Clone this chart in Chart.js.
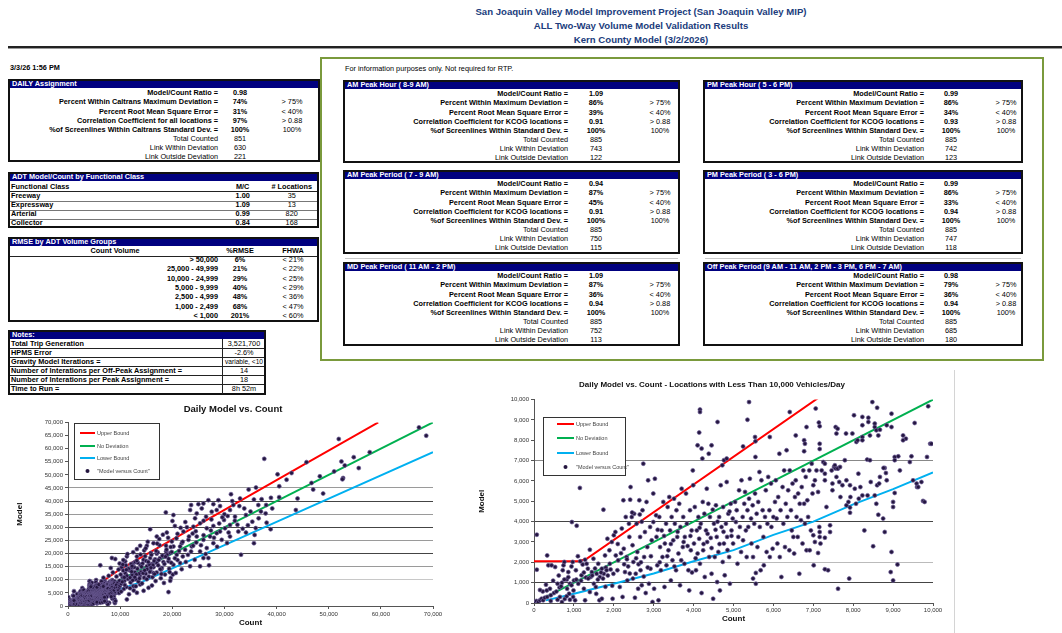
<!DOCTYPE html>
<html>
<head>
<meta charset="utf-8">
<script src="https://cdn.jsdelivr.net/npm/chart.js@4.4.1/dist/chart.umd.min.js"></script>
<style>
  html, body { margin: 0; padding: 0; background: #fff; }
  body { width: 1062px; height: 633px; position: relative; overflow: hidden;
         font-family: "Liberation Sans", Arial, sans-serif; }
  .t { position: absolute; white-space: nowrap; line-height: 10px; font-size: 7.3px; color: #000; }
  .b { font-weight: bold; }
  .r { position: absolute; box-sizing: border-box; }
  .title { position: absolute; left: 641px; transform: translateX(-50%); white-space: nowrap;
           font: bold 9.6px "Liberation Sans", Arial, sans-serif; color: #203c7c; }
  canvas { display: block; }
</style>
</head>
<body>
<div class="title" style="top:6px">San Joaquin Valley Model Improvement Project (San Joaquin Valley MIP)</div>
<div class="title" style="top:20px">ALL Two-Way Volume Model Validation Results</div>
<div class="title" style="top:34px">Kern County Model (3/2/2026)</div>
<div class="r" style="left:8px;top:46px;width:1054px;height:2px;background:#222"></div>
<div class="r" style="left:8px;top:48px;width:1054px;height:1px;background:#999"></div>

<div class="r" style="left:320px;top:57px;width:724px;height:304px;border:2px solid #7a9a3c"></div>

<div id="dailyWrap" style="position:absolute;left:0;top:398px;width:466px;height:235px">
  <canvas id="dailyChart" width="466" height="235"></canvas>
</div>
<div id="lowWrap" style="position:absolute;left:470px;top:370px;width:484px;height:263px;border-right:1px solid #d4d4d4;box-sizing:content-box">
  <canvas id="lowChart" width="484" height="263"></canvas>
</div>

<script>
// ---------- chart data ----------
// Locations counted under 10,000 vehicles/day: [count, model]
const underTenThousand = [
  [0,0],[60,100],[110,50],[150,130],[190,210],[230,130],[270,260],[330,300],[70,1640],[70,3360],
  [360,1850],[330,2340],[440,1850],[220,570],[320,620],[400,700],[500,490],[590,160],[650,300],[720,1610],
  [740,1850],[760,2020],[820,1150],[860,1520],[900,950],[940,870],[950,3980],[970,2020],[990,620],[1000,1110],
  [530,1770],[590,950],[770,200],[820,330],[900,160],[880,460],[420,380],[560,560],[640,760],[700,1000],
  [760,1150],[830,700],[150,640],[300,900],[480,1100],[620,1350],[680,820],[860,1270],[940,1800],[420,100],
  [700,50],[980,300],
  [1070,3800],[1150,5660],[1030,130],[1110,950],[1050,1610],[1190,1360],[1220,1890],[1280,2130],[1320,1930],[1350,1690],
  [1400,2620],[1420,1280],[1450,1520],[1490,2180],[1500,950],[1550,790],[1570,1440],[1610,1930],[1640,130],[1650,1280],
  [1700,1690],[1740,4590],[1750,1440],[1780,2340],[1800,1740],[1820,1610],[1840,3160],[1890,2590],[1900,1930],[1950,3000],
  [1970,210],[1990,1440],[2000,3330],[1400,540],[1280,130],[1700,210],[1060,1150],[1180,1100],[1250,1500],[1300,1250],
  [1360,1200],[1460,1350],[1530,1700],[1600,1150],[1680,1500],[1730,1200],[1850,1350],[1920,1650],[1960,850],[1100,2300],
  [1160,2050],[1250,700],[1560,450],[1790,800],
  [2040,3490],[2050,2340],[2090,1610],[2110,2100],[2150,790],[2200,3660],[2220,300],[2240,5050],[2250,2670],[2280,1520],
  [2300,4230],[2320,2260],[2340,1110],[2360,1800],[2390,3250],[2410,5080],[2420,5700],[2450,4230],[2470,2840],[2490,2020],
  [2510,4390],[2530,260],[2550,1440],[2570,3900],[2590,2510],[2610,700],[2640,5050],[2660,3250],[2670,1610],[2700,870],
  [2720,4560],[2740,6850],[2760,2260],[2780,3490],[2800,490],[2820,4970],[2840,2750],[2860,6030],[2880,950],[2910,3740],
  [2920,1690],[2950,3080],[2970,50],[2990,5380],[2990,3980],[3010,700],[2100,2900],[2180,2450],[2260,1900],[2330,2150],
  [2400,1450],[2480,1200],[2560,2200],[2620,1900],[2680,2000],[2750,1300],[2850,1750],[2930,2300],[2380,3900],[2460,4450],
  [2650,4350],[2700,4000],
  [3030,6110],[3060,4310],[3070,3250],[3090,1850],[3120,130],[3140,4230],[3160,2750],[3180,1610],[3200,3570],[3220,2260],
  [3240,4970],[3270,790],[3280,2920],[3310,3900],[3320,1850],[3350,4720],[3370,2590],[3390,5210],[3410,3570],[3430,1110],
  [3450,4230],[3470,2100],[3490,3080],[3510,5130],[3530,3900],[3560,1610],[3570,4560],[3590,3250],[3620,2430],[3640,4880],
  [3660,870],[3670,3740],[3700,5620],[3730,2750],[3740,4230],[3770,1930],[3780,3250],[3810,5380],[3830,3900],[3870,1610],
  [3890,620],[3910,4560],[3930,2590],[3950,3570],[3980,6520],[3990,5790],[4010,2920],[3100,3600],[3150,2000],[3260,3300],
  [3340,2300],[3430,2900],[3520,1800],[3600,3500],[3690,2100],[3750,3000],[3850,2800],[3920,3300],[3960,1500],
  [4030,4720],[4060,1610],[4080,3570],[4100,2430],[4120,4230],[4140,3160],[4160,1930],[4180,3900],[4200,490],[4230,4970],
  [4240,2590],[4270,4390],[4280,1280],[4310,3570],[4330,5620],[4340,3000],[4370,4880],[4390,2260],[4410,4230],[4430,3200],
  [4450,1440],[4480,4590],[4490,210],[4510,3900],[4530,2260],[4560,4800],[4580,3250],[4590,1030],[4620,2510],[4640,4230],
  [4660,620],[4680,5790],[4700,3740],[4730,2020],[4740,4720],[4760,2920],[4780,1360],[4810,3900],[4830,5950],[4840,3250],
  [4870,4390],[4890,2260],[4910,950],[4930,4880],[4950,3570],[4980,4150],[4990,2920],[4720,6770],[4760,7020],[4830,7100],
  [4050,2200],[4150,3700],[4250,2900],[4350,3400],[4450,2700],[4550,3600],[4650,2900],[4750,3500],[4850,2600],[4950,3300],
  [4600,4000],[4900,4500],
  [5040,4970],[5060,3980],[5080,4560],[5100,1930],[5120,3250],[5140,5540],[5160,3740],[5190,2510],[5200,6030],[5230,4230],
  [5240,3080],[5270,4880],[5290,5460],[5310,3570],[5330,2260],[5350,4560],[5370,3740],[5390,5130],[5410,6110],[5440,4150],
  [5450,2920],[5480,4800],[5490,2260],[5520,3900],[5540,5380],[5560,950],[5580,4390],[5600,2750],[5620,4970],[5650,6440],
  [5660,3740],[5680,1610],[5700,6030],[5730,4560],[5750,3250],[5760,1850],[5790,4230],[5810,5540],[5830,2510],[5850,3900],
  [5870,6200],[5900,4560],[5910,2260],[5940,5870],[5950,3740],[5980,2670],[6000,4230],[5490,1200],[5560,1480],
  [6040,4970],[6060,6030],[6080,4150],[6100,2920],[6120,5210],[6150,7340],[6160,2260],[6180,4560],[6200,1280],[6230,5700],
  [6250,3900],[6270,6520],[6290,2750],[6310,4880],[6330,7510],[6350,4230],[6370,5540],[6400,2590],[6410,6520],[6440,4560],
  [6460,3570],[6480,5870],[6500,3250],[6520,2430],[6540,5210],[6560,6030],[6580,4230],[6610,3250],[6620,5380],[6650,1440],
  [6660,4880],[6690,4070],[6710,5700],[6730,2920],[6750,6520],[6770,4880],[6790,3900],[6810,6200],[6830,2590],[6850,5050],
  [6870,4230],[6900,6520],[6910,2590],[6940,3570],[6960,6850],[6980,5380],[7000,5790],
  [7040,6030],[7080,6520],[7120,5460],[7150,3740],[7180,2920],[7210,6520],[7250,6930],[7290,6360],[7330,4720],[7370,1610],
  [7420,3820],[7460,6520],[7480,5540],[7520,6690],[7580,6200],[7620,6610],[7680,5210],[7730,5790],[7790,7020],[7830,6030],
  [7880,4970],[7930,5210],[7980,8330],[7060,9560],[7140,8870],[7160,8690],[7160,7830],[7160,7570],[6830,8650],[7560,8650],
  [7610,8570],[7580,8330],[7820,8330],[7290,6850],[7290,6030],[7480,5870],[7650,5950],[7540,6770],[7560,6610],[7610,6610],
  [7670,6690],[7830,4800],[7920,4690],[7920,4440],[7920,5790],[7900,1200],[7620,700],[7290,1660],[7160,3490],[7160,3250],
  [7120,2460],[7290,3210],[7420,3490],[7040,3000],[7000,3330],[7010,1850],
  [5390,9880],[4160,9510],[4160,9390],[4600,8900],[5350,9010],[4140,8380],[6410,9390],[4100,7750],[4200,7590],[4220,7100],
  [4450,7750],[4380,7340],[5240,7700],[5540,8160],[5550,7950],[5550,7180],[5910,8160],[6560,8240],[6770,8000],[6790,7830],
  [6770,7460],
  [8020,9230],[8080,7920],[8110,8000],[8230,9150],[8230,8740],[8230,8160],[8230,8000],[8380,9110],[8380,8900],[8420,8240],
  [8480,9880],[8600,9600],[8540,8820],[8540,8650],[8580,8490],[8670,8520],[8630,8240],[8840,8740],[8960,9310],[8960,8650],
  [9250,8240],[9320,8080],[9540,8850],[9880,9670],[9930,7830],[9040,7180],[9130,7210],[9460,7210],[9170,6520],[8790,6640],
  [8760,6640],[8820,6390],[8350,7050],[8420,7020],[8040,5620],[8130,6360],[8140,5130],[8230,5290],[8180,5700],[8600,5790],
  [8650,5870],[8540,5290],[8580,4880],[8630,4340],[8750,4150],[9000,4720],[9000,4970],[9040,5410],[9590,5870],[9600,5700],
  [9750,5020],[8790,3490],[8500,2790],[8960,2510],[8940,1520],[9000,1110],[9110,1890],[8070,4880],[8280,3570],[8360,5290],
  [8440,5950],[8670,6200],[8840,6030],[9040,7020],[9250,8000],[9420,6930],[9500,6030],[9630,5700],[9710,5950],[9790,4970],
  [9850,7180],[9960,7830],
  [6190,15510],[9060,17910],[8420,18280],[7800,11500],[8600,12800],[9300,11200],[9700,13900],[6800,10800],[8200,14500],
  [9900,16200]
];

// Locations counted at 10,000 vehicles/day and above: [count, model]
const tenThousandAndUp = [
  [67310,68100],[68700,64940],[51930,63680],[37640,56110],[57870,58640],[54800,56750],[45740,54850],[52440,55100],
  [53080,53600],[55760,52580],[51040,51320],[48300,49430],[52760,48800],[52630,48300],[42870,50690],[41920,48170],
  [46700,46910],[47020,44390],[48930,42870],[44020,40980],[43700,36570],[40190,50190],[40510,45650],[34640,44390],
  [36050,45140],[31260,42620],[35660,40600],[37130,40730],[38920,41230],[39170,37200],[37900,35310],[36560,33420],
  [38090,31780],[38860,29260],[33810,37200],[34130,34680],[32860,38080],[31710,38460],[31070,36570],[32030,34050],
  [30620,34300],[29920,32790],[31070,30890],[32670,28370],[34130,27990],[35790,27110],[35660,23960],[33180,19550],
  [35350,32160],[28840,40350],[29160,38080],[28520,36570],[27880,38840],[27560,35940],[26920,40350],[26480,34050],
  [25970,39090],[25650,37200],[25010,38840],[24690,35310],[24370,33420],[23610,38460],[23420,36570],[24050,30260],
  [25330,31520],[26610,29630],[27880,30520],[29160,28370],[30110,29630],[31070,26480],[28520,27740],[27240,26480],
  [25970,25220],[24690,26480],[23100,25220],[22140,28370],[21820,23960],[22460,21440],[23730,22700],[25330,20810],
  [26610,22070],[27880,23960],[29480,25220],[25970,18280],[26920,18280],[25330,15130],[23420,15130],[27050,15510],
  [18760,35690],[20220,34680],[20030,32410],[15760,29260],[17030,26480],[18950,27990],[19910,24590],[20220,22700],
  [21500,22700],[18820,20810],[17540,23200],[16400,23960],[15120,22950],[13840,22950],[13210,21690],[14610,21180],
  [15890,20180],[17030,19920],[18310,18910],[19590,20180],[20860,19550],[22010,18910],[21500,16390],[20220,15760],
  [19270,17020],[20100,11980],[20670,12610],[19720,10720],[19270,5300],[17860,13870],[17030,16390],[16400,12610],
  [15760,18280],[15120,15130],[14480,17650],[13840,15760],[13210,18910],[12570,16390],[12250,14500],[11290,18910],
  [10970,17020],[15440,6940],[13840,8200],[12570,7570],[11290,2520],[13210,5040],
  [10200,8500],[10500,11000],[10800,9500],[11000,12500],[11200,7200],[11500,10300],[11800,13600],[12000,9000],
  [12300,11800],[12600,5900],[12800,12900],[13000,10200],[13300,14200],[13500,9300],[13800,11500],[14000,13000],
  [14300,16200],[14600,10800],[14900,12300],[15200,14000],[15500,11200],[15800,13400],[16100,16000],[16400,14800],
  [16700,17800],[17000,12800],[17300,15500],[17600,18200],[18000,14500],[18300,16800],[18600,12000],[19000,19500],
  [19400,14200],[19800,16500],[10300,14800],[10700,6500],[11100,15500],[11700,4500],[12200,13100],[12900,16800],
  [13600,12300],[14200,8600],[15000,17200],[15600,15800],[16200,11000],[17200,20500],[17800,10600],[18800,23000],
  [19500,12900],[21000,17500],[22000,24500],[23000,19500],[24000,23000],[24500,28500],[26000,27000],[21000,27500],
  [20500,30500],[22500,32000],[23200,26500],[24300,17600],[27500,33000],[28000,26000],[30000,35000],[30500,24000],
  [29000,31500],[32500,31000],[33500,29500],[35000,36000],[36500,38500],[33000,41000],[31500,40000],[37000,36000],
  [40500,41500],[38000,38500],[26000,32500],[22800,30000],
  [10100,12000],[10400,9200],[10600,13500],[10900,8000],[11300,11500],[11600,14200],[11900,10800],[12100,16000],
  [12400,9800],[12700,14800],[13100,12000],[13400,16500],[13700,10500],[14100,15000],[14400,12500],[14800,19000],
  [15100,10200],[15400,16800],[15700,13000],[16000,19500],[16300,15600],[16600,12200],[16900,21000],[17400,17500],
  [17700,14000],[18100,19200],[18500,16000],[18900,21500],[19300,18000],[19700,22500],[10200,5500],[10600,17500],
  [11400,19800],[11900,6800],[12500,20500],[13000,7500],[13900,19600],[14500,5800],[15300,24500],[16800,9500],
  [17500,25500],[18400,8800],[19200,26000],[10800,10900],[11200,13800],[12300,15200],[13200,17300],[14700,13600],
  [15900,14600],[16500,17200],[17900,12200],[18700,18800],[19900,20600],[20500,18200],[21300,21000],[21800,14000],
  [22600,16800],[23600,20800],[24600,24200],[20800,25800],[21600,29800],[23900,27600],[25500,23200],[26400,19800],
  [27400,28800],[28600,22600],[29600,33800],[30800,28000],[32000,32500],[34500,30800],[36000,29700],[10500,15800],
  [12800,11000],[14900,22000],[16100,7800],[17100,23800],[18200,27200],[19600,9600]
];

// Caltrans maximum deviation envelope and the no-deviation line: [count, model]
const upperBound = [[0,2050],[1100,2050],[1300,2150],[10000,14000],[20000,25300],[40000,48000],[59500,70000]];
const noDeviation = [[0,0],[70000,70000]];
const lowerBound = [[300,130],[1000,450],[2000,950],[3000,1450],[4000,2050],[5000,2600],[6000,3350],[7000,4000],
  [8000,4850],[9000,5600],[10000,6420],[14500,9460],[20000,14330],[40000,32050],[70000,58650]];

// Axis ticks
const dailyXTicks = [0,10000,20000,30000,40000,50000,60000,70000];
const dailyYTicks = [0,5000,10000,15000,20000,25000,30000,35000,40000,45000,50000,55000,60000,65000,70000];
const lowTicks = [0,1000,2000,3000,4000,5000,6000,7000,8000,9000,10000];

// Series names
const seriesNames = ['Upper Bound', 'No Deviation', 'Lower Bound', '"Model versus Count"'];

// ---------- summary tables ----------
const FONT = '"Liberation Sans", Arial, sans-serif';

function put(x, y, s, o = {}) {
  const d = document.createElement('div');
  d.className = 't' + (o.b ? ' b' : '');
  d.textContent = s;
  d.style.left = x + 'px';
  d.style.top = (y - 5) + 'px';
  if (o.a === 'r') d.style.transform = 'translateX(-100%)';
  else if (o.a === 'c') d.style.transform = 'translateX(-50%)';
  if (o.color) d.style.color = o.color;
  if (o.size) d.style.fontSize = o.size + 'px';
  document.body.appendChild(d);
}
function rect(x, y, w, h, css) {
  const d = document.createElement('div');
  d.className = 'r';
  d.style.cssText += `left:${x}px;top:${y}px;width:${w}px;height:${h}px;` + css;
  document.body.appendChild(d);
}
function frame(x, y, w, h, title) {
  rect(x, y, w, 9, 'background:#00007f');
  rect(x, y, w, h, 'border:2px solid #111');
  put(x + 4, y + 4.8, title, { b: 1, color: '#fff' });
}
function statPanel(p) {
  frame(p.x, p.y, p.w, p.h, p.title);
  p.rows.forEach((r, i) => {
    const y = p.y + 14.3 + i * 9.1;
    const strong = i < 5;
    put(p.x + p.cols[0], y, r[0], { b: strong, a: 'r' });
    put(p.x + p.cols[1], y, r[1], { b: strong, a: 'c' });
    if (r[2]) put(p.x + p.cols[2], y, r[2], { a: 'c' });
  });
}

const periodLabels = ['Model/Count Ratio =', 'Percent Within Maximum Deviation =', 'Percent Root Mean Square Error =',
  'Correlation Coefficient for KCOG locations =', '%of Screenlines Within Standard Dev. =',
  'Total Counted', 'Link Within Deviation', 'Link Outside Deviation'];
const criteria = ['', '> 75%', '< 40%', '> 0.88', '100%', '', '', ''];
function rowsOf(labels, values) { return labels.map((l, i) => [l, values[i], criteria[i]]); }

put(10, 67.5, '3/3/26 1:56 PM', { b: 1 });
put(345, 68.5, 'For information purposes only. Not required for RTP.');

statPanel({ x: 8, y: 79, w: 312, h: 83, title: 'DAILY Assignment', cols: [210, 232, 284],
  rows: rowsOf(['Model/Count Ratio =', 'Percent Within Caltrans Maximum Deviation =', 'Percent Root Mean Square Error =',
    'Correlation Coefficient for all locations =', '%of Screenlines Within Caltrans Standard Dev. =',
    'Total Counted', 'Link Within Deviation', 'Link Outside Deviation'],
    ['0.98', '74%', '31%', '97%', '100%', '851', '630', '221']) });

const leftCols = [225, 253, 317], rightCols = [221, 248, 303];
statPanel({ x: 343, y: 80, w: 337, h: 83, title: 'AM Peak Hour ( 8-9 AM)', cols: leftCols,
  rows: rowsOf(periodLabels, ['1.09', '86%', '39%', '0.91', '100%', '885', '743', '122']) });
statPanel({ x: 703, y: 80, w: 320, h: 83, title: 'PM Peak Hour ( 5 - 6 PM)', cols: rightCols,
  rows: rowsOf(periodLabels, ['0.99', '86%', '34%', '0.93', '100%', '885', '742', '123']) });
statPanel({ x: 343, y: 170, w: 337, h: 84, title: 'AM Peak Period ( 7 - 9 AM)', cols: leftCols,
  rows: rowsOf(periodLabels, ['0.94', '87%', '45%', '0.91', '100%', '885', '750', '115']) });
statPanel({ x: 703, y: 170, w: 320, h: 84, title: 'PM Peak Period ( 3 - 6 PM)', cols: rightCols,
  rows: rowsOf(periodLabels, ['0.99', '86%', '33%', '0.94', '100%', '885', '747', '118']) });
statPanel({ x: 343, y: 262, w: 337, h: 84, title: 'MD Peak Period ( 11 AM - 2 PM)', cols: leftCols,
  rows: rowsOf(periodLabels, ['1.09', '87%', '36%', '0.94', '100%', '885', '752', '113']) });
statPanel({ x: 703, y: 262, w: 320, h: 84, title: 'Off Peak Period (9 AM - 11 AM, 2 PM - 3 PM, 6 PM  - 7 AM)', cols: rightCols,
  rows: rowsOf(periodLabels, ['0.98', '79%', '36%', '0.94', '100%', '885', '685', '180']) });
rect(345, 258, 333, 1, 'background:#c8c8c8');
rect(705, 258, 316, 1, 'background:#c8c8c8');

// ADT by functional class
frame(8, 172, 311, 56, 'ADT Model/Count by Functional Class');
put(11, 186.5, 'Functional Class', { b: 1 });
put(242.7, 186.5, 'M/C', { b: 1, a: 'c' });
put(291.7, 186.5, '# Locations', { b: 1, a: 'c' });
rect(10, 190.5, 307, 1, 'background:#222');
[['Freeway', '1.00', '35'], ['Expressway', '1.09', '13'], ['Arterial', '0.99', '820'], ['Collector', '0.84', '168']]
  .forEach((r, i) => {
    const y = 196 + i * 9;
    put(11, y, r[0], { b: 1 });
    put(242.7, y, r[1], { b: 1, a: 'c' });
    put(291.7, y, r[2], { a: 'c' });
    if (i < 3) rect(10, y + 4.5, 307, 1, 'background:#777');
  });

// RMSE by volume group
frame(8, 237, 311, 85, 'RMSE by ADT Volume Groups');
put(115, 251, 'Count Volume', { b: 1, a: 'c' });
put(240, 251, '%RMSE', { b: 1, a: 'c' });
put(293, 251, 'FHWA', { b: 1, a: 'c' });
rect(10, 255.5, 307, 1, 'background:#222');
[['> 50,000', '6%', '< 21%'], ['25,000 - 49,999', '21%', '< 22%'], ['10,000 - 24,999', '29%', '< 25%'],
 ['5,000 - 9,999', '40%', '< 29%'], ['2,500 - 4,999', '48%', '< 36%'], ['1,000 - 2,499', '68%', '< 47%'],
 ['< 1,000', '201%', '< 60%']].forEach((r, i) => {
  const y = 260 + i * 9.3;
  put(218, y, r[0], { b: 1, a: 'r' });
  put(240, y, r[1], { b: 1, a: 'c' });
  put(293, y, r[2], { a: 'c' });
});

// Notes
frame(8, 330, 258, 65, 'Notes:');
rect(222, 339, 1, 55, 'background:#222');
[['Total Trip Generation', '3,521,700'], ['HPMS Error', '-2.6%'], ['Gravity Model Iterations =', 'variable, <10'],
 ['Number of Interations per Off-Peak Assignment =', '14'], ['Number of Interations per Peak Assignment =', '18'],
 ['Time to Run =', '8h 52m']].forEach((r, i) => {
  const y = 343.5 + i * 9;
  put(11, y, r[0], { b: 1 });
  put(244, y, r[1], { a: 'c', size: r[1].length > 10 ? 6.6 : 7.3 });
  if (i < 5) rect(10, y + 4.5, 254, 1, 'background:#222');
});

// ---------- charts ----------
const toPoints = rows => rows.map(([x, y]) => ({ x, y }));
const fmt = v => Number(v).toLocaleString('en-US');

// Framed legend drawn inside the plot area
const boxLegend = {
  id: 'boxLegend',
  afterDatasetsDraw(chart, args, o) {
    const { ctx, chartArea: a } = chart;
    const x0 = Math.round(a.left + o.x), y0 = Math.round(a.top + o.y);
    ctx.save();
    ctx.fillStyle = '#fff';
    ctx.fillRect(x0, y0, o.w, o.h);
    ctx.strokeStyle = '#333';
    ctx.lineWidth = 1;
    ctx.strokeRect(x0 + 0.5, y0 + 0.5, o.w, o.h);
    ctx.font = `${o.fontSize}px ${FONT}`;
    ctx.textBaseline = 'middle';
    chart.data.datasets.forEach((ds, i) => {
      const y = y0 + o.rows[i];
      if (ds.showLine) {
        ctx.strokeStyle = ds.borderColor;
        ctx.lineWidth = 2;
        ctx.beginPath();
        ctx.moveTo(x0 + o.s1, y);
        ctx.lineTo(x0 + o.s2, y);
        ctx.stroke();
      } else {
        ctx.fillStyle = ds.backgroundColor;
        ctx.beginPath();
        ctx.arc(x0 + (o.s1 + o.s2) / 2, y, 2, 0, Math.PI * 2);
        ctx.fill();
      }
      ctx.fillStyle = '#444';
      ctx.fillText(ds.label, x0 + o.tx, y);
    });
    ctx.restore();
  }
};

function datasets(scatterRows) {
  const line = (label, data, color) => ({
    label, data: toPoints(data), showLine: true, borderColor: color, backgroundColor: color,
    borderWidth: 2, pointRadius: 0, order: 1
  });
  return [
    line(seriesNames[0], upperBound, '#ff0000'),
    line(seriesNames[1], noDeviation, '#00b050'),
    line(seriesNames[2], lowerBound, '#00b0f0'),
    { label: seriesNames[3], data: toPoints(scatterRows), showLine: false,
      backgroundColor: '#24163f', borderColor: '#6e5e98', borderWidth: 0.7, pointRadius: 2, order: 0 }
  ];
}

function chartOptions(cfg) {
  return {
    responsive: false, animation: false, devicePixelRatio: 1,
    layout: { padding: 0 },
    plugins: {
      legend: { display: false }, tooltip: { enabled: false },
      title: { display: true, text: cfg.title, color: '#111',
               font: { family: FONT, size: cfg.titleSize, weight: 'bold' }, padding: cfg.titlePad },
      boxLegend: cfg.legend
    },
    scales: {
      x: {
        type: 'linear', min: 0, max: cfg.max,
        afterBuildTicks: s => { s.ticks = cfg.xTicks.map(value => ({ value })); },
        afterFit: s => { s.height = cfg.xHeight; },
        grid: { drawOnChartArea: false, tickLength: 3, tickColor: '#555' },
        border: { color: '#555', width: 1 },
        ticks: { callback: fmt, font: { family: FONT, size: 6 }, color: '#333', padding: cfg.xTickPad, maxRotation: 0 },
        title: { display: true, text: 'Count', color: '#111', font: { family: FONT, size: 8, weight: 'bold' },
                 padding: { top: 0, bottom: cfg.xTitlePad } }
      },
      y: {
        type: 'linear', min: 0, max: cfg.max,
        afterBuildTicks: s => { s.ticks = cfg.yTicks.map(value => ({ value })); },
        afterFit: s => { s.width = cfg.yWidth; },
        grid: { color: ctx => cfg.gridShade[ctx.tick && ctx.tick.value] || 'rgba(0,0,0,0)',
                lineWidth: 1, tickLength: 3, tickColor: '#555' },
        border: { color: '#555', width: 1 },
        ticks: { callback: fmt, font: { family: FONT, size: 6 }, color: '#333', padding: 2 },
        title: { display: true, text: 'Model', color: '#111', font: { family: FONT, size: 8, weight: 'bold' },
                 padding: { top: cfg.yTitlePad, bottom: 0 } }
      },
      // empty strip that keeps the plot clear of the right edge
      gutter: {
        type: 'linear', position: 'right', display: true,
        afterFit: s => { s.width = cfg.padRight; },
        grid: { display: false }, border: { display: false }, ticks: { display: false }
      }
    }
  };
}

new Chart(document.getElementById('dailyChart'), {
  type: 'scatter',
  data: { datasets: datasets(underTenThousand.concat(tenThousandAndUp)) },
  options: chartOptions({
    title: 'Daily Model vs. Count', titleSize: 9.5, max: 70000, xTicks: dailyXTicks, yTicks: dailyYTicks,
    padRight: 33, titlePad: { top: 6, bottom: 7 }, xHeight: 27, yWidth: 68, xTickPad: 2, xTitlePad: 5, yTitlePad: 15,
    gridShade: { 10000: '#c8c8c8', 15000: '#9a9a9a', 20000: '#444', 25000: '#9a9a9a', 30000: '#444',
                 35000: '#9a9a9a', 40000: '#444', 45000: '#9a9a9a' },
    legend: { x: 6, y: 1, w: 85, h: 56, rows: [10, 23, 35, 48], s1: 6, s2: 21, tx: 23, fontSize: 5.5 }
  }),
  plugins: [boxLegend]
});

new Chart(document.getElementById('lowChart'), {
  type: 'scatter',
  data: { datasets: datasets(underTenThousand) },
  options: chartOptions({
    title: 'Daily Model vs. Count - Locations with Less Than 10,000 Vehicles/Day', titleSize: 8, max: 10000,
    xTicks: lowTicks, yTicks: lowTicks,
    padRight: 21, titlePad: { top: 10, bottom: 10 }, xHeight: 30, yWidth: 64, xTickPad: 1, xTitlePad: 9, yTitlePad: 7,
    gridShade: { 1000: '#444', 2000: '#bbb', 4000: '#444', 7000: '#888' },
    legend: { x: 9, y: 17, w: 82, h: 58, rows: [7, 21, 36, 50], s1: 14, s2: 31, tx: 33, fontSize: 5.5 }
  }),
  plugins: [boxLegend]
});
</script>
</body>
</html>
